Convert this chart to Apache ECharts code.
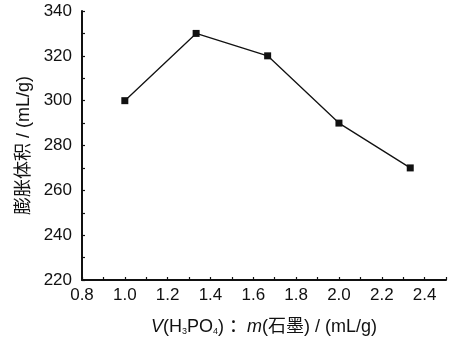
<!DOCTYPE html>
<html>
<head>
<meta charset="utf-8">
<script src="https://cdn.jsdelivr.net/npm/echarts@6/dist/echarts.min.js"></script>
<style>
  html, body { margin: 0; padding: 0; background: #fff; }
  #chart { width: 464px; height: 344px; }
</style>
</head>
<body>
<div id="chart"></div>
<script>
// Acid-to-graphite ratio vs. expansion volume
const ratio = [1.0, 1.333, 1.667, 2.0, 2.333];
const volume = [300, 330, 320, 290, 270];

const xRange = [0.8, 2.5];
const yRange = [220, 340];

const font = '"Liberation Sans", Arial, sans-serif';
const cjk = '"Liberation Sans", "Noto Sans CJK SC", sans-serif';
const ink = '#111';

const chart = echarts.init(document.getElementById('chart'), null, { renderer: 'canvas' });

chart.setOption({
  animation: false,
  backgroundColor: '#fff',
  grid: { left: 82, right: 18, top: 11, bottom: 64 },
  xAxis: {
    type: 'value',
    min: xRange[0],
    max: xRange[1],
    interval: 0.1,
    name: '{i|V}(H{s|3}PO{s|4}) ：{i|m}(石墨) / (mL/g)',
    nameLocation: 'middle',
    nameGap: 38,
    nameTextStyle: {
      fontFamily: cjk, fontSize: 18, color: ink,
      rich: {
        i: { fontFamily: cjk, fontSize: 18, fontStyle: 'italic', color: ink },
        s: { fontFamily: font, fontSize: 9, color: ink, verticalAlign: 'bottom', lineHeight: 12 }
      }
    },
    axisLine: { lineStyle: { color: ink, width: 2 } },
    axisTick: { inside: true, length: 3, lineStyle: { color: ink, width: 1.2 } },
    splitLine: { show: false },
    axisLabel: {
      margin: 7,
      fontFamily: font, fontSize: 17, color: ink,
      formatter: v => {
        const t = Math.round(v * 10);
        return (t % 2 === 0 && t <= 24) ? (t / 10).toFixed(1) : '';
      }
    }
  },
  yAxis: {
    type: 'value',
    min: yRange[0],
    max: yRange[1],
    interval: 10,
    name: '膨胀体积 / (mL/g)',
    nameLocation: 'middle',
    nameGap: 46,
    nameTextStyle: { fontFamily: cjk, fontSize: 18, color: ink },
    axisLine: { show: true, lineStyle: { color: ink, width: 2 } },
    axisTick: { inside: true, length: 3, lineStyle: { color: ink, width: 1.2 } },
    splitLine: { show: false },
    axisLabel: {
      margin: 10,
      fontFamily: font, fontSize: 17, color: ink,
      formatter: v => (Math.round(v) % 20 === 0 ? String(Math.round(v)) : '')
    }
  },
  series: [{
    type: 'line',
    data: ratio.map((x, i) => [x, volume[i]]),
    symbol: 'rect',
    symbolSize: 7,
    lineStyle: { color: ink, width: 1.3 },
    itemStyle: { color: ink },
    silent: true
  }]
});
</script>
</body>
</html>
